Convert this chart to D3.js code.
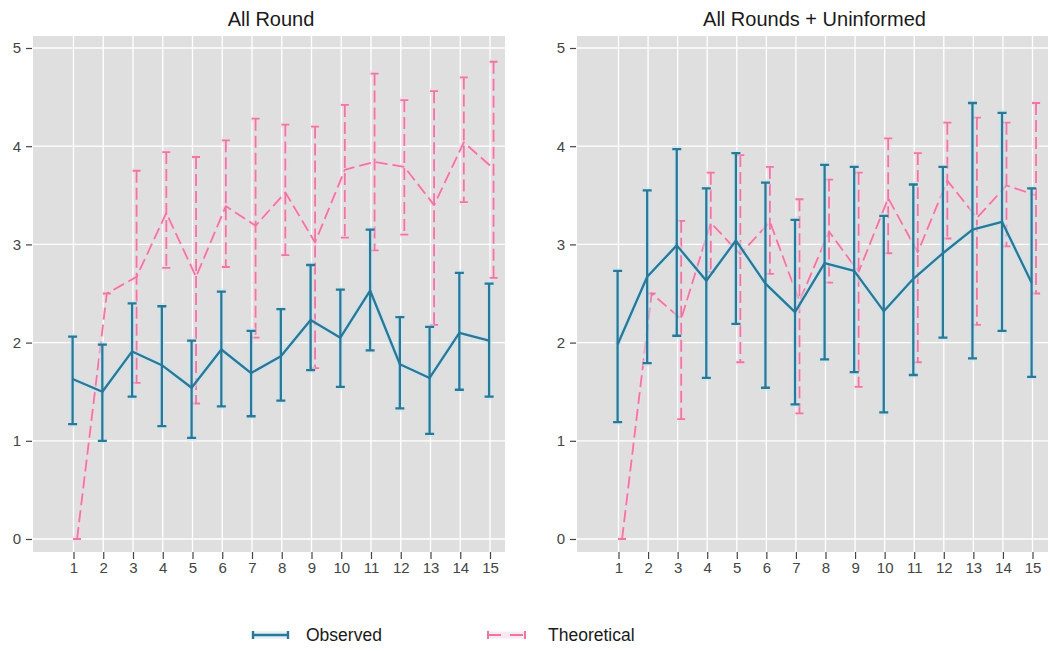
<!DOCTYPE html>
<html>
<head>
<meta charset="utf-8">
<script src="https://cdn.jsdelivr.net/npm/d3@7/dist/d3.min.js"></script>
<style>
  html, body { margin: 0; padding: 0; background: #ffffff; }
  svg { display: block; font-family: "Liberation Sans", Arial, sans-serif; }
</style>
</head>
<body>
<svg id="chart" width="1050" height="651"></svg>
<script>
// ---------------- data ----------------
const rounds = [1,2,3,4,5,6,7,8,9,10,11,12,13,14,15];
const yTicks = [0,1,2,3,4,5];
const panelTitles = ["All Round", "All Rounds + Uninformed"];
const seriesNames = ["Observed", "Theoretical"];

// Panel 1: All Round
const p1ObsMean = [1.63,1.50,1.91,1.77,1.54,1.93,1.69,1.86,2.23,2.05,2.53,1.78,1.64,2.10,2.02];
const p1ObsLow  = [1.17,1.00,1.45,1.15,1.03,1.35,1.25,1.41,1.72,1.55,1.92,1.33,1.07,1.52,1.45];
const p1ObsHigh = [2.06,1.98,2.40,2.37,2.02,2.52,2.12,2.34,2.79,2.54,3.15,2.26,2.16,2.71,2.60];
const p1TheoMean = [0,2.50,2.67,3.32,2.67,3.39,3.19,3.53,3.02,3.76,3.84,3.79,3.40,4.04,3.77];
const p1TheoLow  = [0,2.50,1.59,2.76,1.38,2.77,2.05,2.89,1.74,3.07,2.94,3.10,2.18,3.43,2.66];
const p1TheoHigh = [0,2.50,3.75,3.94,3.89,4.06,4.28,4.22,4.20,4.42,4.74,4.47,4.56,4.70,4.86];

// Panel 2: All Rounds + Uninformed
const p2ObsMean = [1.98,2.67,2.99,2.63,3.04,2.60,2.31,2.81,2.73,2.32,2.65,2.91,3.15,3.23,2.61];
const p2ObsLow  = [1.19,1.79,2.07,1.64,2.19,1.54,1.37,1.83,1.70,1.29,1.67,2.05,1.84,2.12,1.65];
const p2ObsHigh = [2.73,3.55,3.97,3.57,3.93,3.63,3.25,3.81,3.79,3.29,3.61,3.79,4.44,4.34,3.57];
const p2TheoMean = [0,2.50,2.24,3.22,2.90,3.23,2.42,3.13,2.72,3.47,2.92,3.65,3.27,3.60,3.50];
const p2TheoLow  = [0,2.50,1.22,2.72,1.80,2.70,1.28,2.61,1.55,2.91,1.80,3.06,2.18,2.98,2.50];
const p2TheoHigh = [0,2.50,3.24,3.73,3.91,3.79,3.46,3.66,3.73,4.08,3.93,4.24,4.29,4.24,4.44];

// ---------------- build ----------------
const zip = (m, l, h) => rounds.map((r, i) => ({ r, m: m[i], l: l[i], h: h[i] }));
const panels = [
  { title: panelTitles[0], obs: zip(p1ObsMean, p1ObsLow, p1ObsHigh), theo: zip(p1TheoMean, p1TheoLow, p1TheoHigh),
    left: 33, right: 505, x1: 73.5, x15: 490 },
  { title: panelTitles[1], obs: zip(p2ObsMean, p2ObsLow, p2ObsHigh), theo: zip(p2TheoMean, p2TheoLow, p2TheoHigh),
    left: 577, right: 1048, x1: 618.5, x15: 1032.5 }
];

const OBS = "#2a7796", OBS_HALO = "#c6e4f1";
const THEO = "#ea78a2", THEO_HALO = "#f6d3e1";
const panelTop = 36, panelBottom = 552;
const y = d3.scaleLinear().domain([0, 5]).range([539, 48]);

const svg = d3.select("#chart");

panels.forEach(p => {
  const x = d3.scaleLinear().domain([1, 15]).range([p.x1, p.x15]);
  const g = svg.append("g");

  g.append("rect").attr("x", p.left).attr("y", panelTop)
    .attr("width", p.right - p.left).attr("height", panelBottom - panelTop).attr("fill", "#dfdfdf");

  // grid
  g.selectAll(".hg").data(yTicks).enter().append("line")
    .attr("x1", p.left).attr("x2", p.right).attr("y1", d => y(d)).attr("y2", d => y(d))
    .attr("stroke", "#ffffff").attr("stroke-width", 1.3);
  g.selectAll(".vg").data(rounds).enter().append("line")
    .attr("y1", panelTop).attr("y2", panelBottom).attr("x1", d => x(d)).attr("x2", d => x(d))
    .attr("stroke", "#ffffff").attr("stroke-width", 1.3);

  // axes
  const ax = g.append("g").attr("transform", `translate(0,${panelBottom})`)
    .call(d3.axisBottom(x).tickValues(rounds).tickFormat(d3.format("d")).tickSize(7).tickPadding(3));
  const ay = g.append("g").attr("transform", `translate(${p.left - 1},0)`)
    .call(d3.axisLeft(y).tickValues(yTicks).tickFormat(d3.format("d")).tickSize(6).tickPadding(5));
  [ax, ay].forEach(a => {
    a.select(".domain").remove();
    a.selectAll(".tick line").attr("stroke", "#444").attr("stroke-width", 1.2);
    a.selectAll(".tick text").attr("fill", "#444").style("font-size", "15px")
      .style("font-family", '"Liberation Sans", Arial, sans-serif');
  });

  // title
  g.append("text").attr("x", (p.left + p.right) / 2 + 2).attr("y", 26)
    .attr("text-anchor", "middle").attr("fill", "#1a1a1a")
    .style("font-size", "20px").text(p.title);

  const clip = "clip" + p.left;
  svg.append("clipPath").attr("id", clip).append("rect")
    .attr("x", p.left).attr("y", panelTop).attr("width", p.right - p.left).attr("height", panelBottom - panelTop);
  const plot = g.append("g").attr("clip-path", `url(#${clip})`);

  const drawSeries = (data, off, color, halo, dash, capW, width) => {
    const xs = d => x(d.r + off);
    const line = d3.line().x(xs).y(d => y(d.m));
    const bar = d => `M${xs(d) - capW},${y(d.h)}H${xs(d) + capW}M${xs(d)},${y(d.h)}V${y(d.l)}M${xs(d) - capW},${y(d.l)}H${xs(d) + capW}`;
    // halos
    plot.append("path").datum(data).attr("d", line).attr("fill", "none")
      .attr("stroke", halo).attr("stroke-width", width + 4).attr("opacity", 0.55)
      .attr("stroke-dasharray", dash);
    plot.selectAll(null).data(data).enter().append("path").attr("d", bar)
      .attr("fill", "none").attr("stroke", halo).attr("stroke-width", width + 4).attr("opacity", 0.55)
      .attr("stroke-dasharray", dash);
    // marks
    plot.append("path").datum(data).attr("d", line).attr("fill", "none")
      .attr("stroke", color).attr("stroke-width", width).attr("stroke-dasharray", dash)
      .attr("stroke-linejoin", "round");
    plot.selectAll(null).data(data).enter().append("path").attr("d", bar)
      .attr("fill", "none").attr("stroke", color).attr("stroke-width", width)
      .attr("stroke-dasharray", dash);
  };

  drawSeries(p.theo, 0.12, THEO, THEO_HALO, "12,5", 4, 1.8);
  drawSeries(p.obs, -0.03, OBS, OBS_HALO, null, 4.5, 2.3);
});

// ---------------- legend ----------------
const lg = svg.append("g");
const legendY = 635;
const legendItems = [
  { name: seriesNames[0], x0: 253, x1: 288, color: OBS, halo: OBS_HALO, dash: null, tx: 306, w: 2.4 },
  { name: seriesNames[1], x0: 488, x1: 525, color: THEO, halo: THEO_HALO, dash: "13,9", tx: 548, w: 2.0 }
];
legendItems.forEach(it => {
  lg.append("path").attr("d", `M${it.x0},${legendY}H${it.x1}`).attr("stroke", it.halo)
    .attr("stroke-width", it.w + 5).attr("opacity", 0.5).attr("fill", "none");
  lg.append("path").attr("d", `M${it.x0},${legendY - 4}V${legendY + 4}`).attr("stroke", it.color).attr("stroke-width", it.w);
  lg.append("path").attr("d", `M${it.x1},${legendY - 4}V${legendY + 4}`).attr("stroke", it.color).attr("stroke-width", it.w);
  lg.append("path").attr("d", `M${it.x0},${legendY}H${it.x1}`).attr("stroke", it.color)
    .attr("stroke-width", it.w).attr("stroke-dasharray", it.dash).attr("fill", "none");
  lg.append("text").attr("x", it.tx).attr("y", legendY + 6).attr("fill", "#1a1a1a")
    .style("font-size", "17.5px").text(it.name);
});
</script>
</body>
</html>
